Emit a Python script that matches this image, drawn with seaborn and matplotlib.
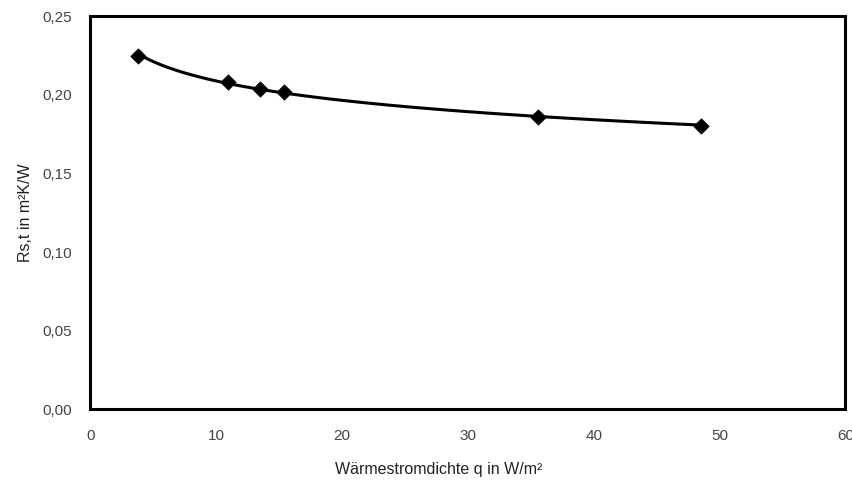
import matplotlib
matplotlib.use("Agg")
import matplotlib.pyplot as plt
import seaborn as sns
import pandas as pd
from matplotlib.ticker import FuncFormatter

# values
q = [3.8, 10.9, 13.5, 15.4, 35.6, 48.5]
rst = [0.225, 0.208, 0.204, 0.202, 0.186, 0.180]

x_ticks = [0, 10, 20, 30, 40, 50, 60]
y_ticks = [0.00, 0.05, 0.10, 0.15, 0.20, 0.25]

df = pd.DataFrame({"q": q, "rst": rst})

sns.set_style("white")
plt.rcParams["font.family"] = ["Liberation Sans", "DejaVu Sans"]

fig = plt.figure(figsize=(8.53, 4.93), dpi=100)
ax = fig.add_axes([0.106, 0.17, 0.885, 0.797])

# trend curve (log fit) + markers
sns.regplot(data=df, x="q", y="rst", logx=True, ci=None, scatter=False,
            line_kws={"color": "black", "lw": 2.2}, ax=ax)
sns.scatterplot(data=df, x="q", y="rst", marker="D", s=60, color="black",
                edgecolor="black", zorder=3, ax=ax)

ax.set_xlim(0, 60)
ax.set_ylim(0, 0.25)
ax.set_xticks(x_ticks)
ax.set_yticks(y_ticks)
ax.yaxis.set_major_formatter(FuncFormatter(lambda v, p: f"{v:.2f}".replace(".", ",")))
ax.tick_params(length=0, labelsize=11, colors="#444444")
ax.tick_params(axis="x", pad=14)
ax.tick_params(axis="y", pad=13)

for s in ax.spines.values():
    s.set_visible(True)
    s.set_color("black")
    s.set_linewidth(2.2)

ax.set_xlabel("Wärmestromdichte q in W/m²", fontsize=11.5, color="#222222")
ax.set_ylabel("Rs,t in m²K/W", fontsize=11.5, color="#222222")
ax.xaxis.set_label_coords(0.461, -0.135)
ax.yaxis.set_label_coords(-0.076, 0.5)

fig.savefig("out.png", dpi=100)
